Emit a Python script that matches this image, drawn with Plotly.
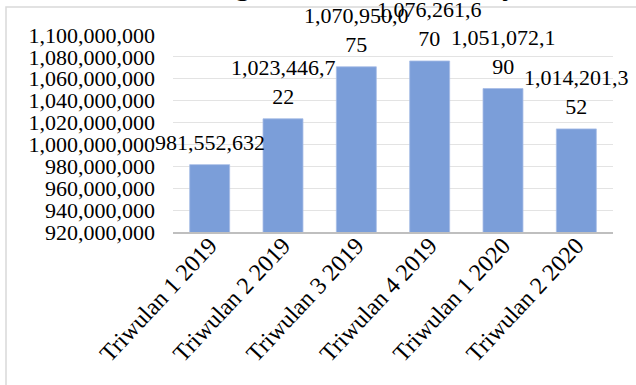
import plotly.graph_objects as go

categories = ["Triwulan 1 2019", "Triwulan 2 2019", "Triwulan 3 2019",
              "Triwulan 4 2019", "Triwulan 1 2020", "Triwulan 2 2020"]
values = [981552632, 1023446722, 1070950075, 1076261670, 1051072190, 1014201352]
value_labels = ["981,552,632", "1,023,446,7<br>22", "1,070,950,0<br>75",
                "1,076,261,6<br>70", "1,051,072,1<br>90", "1,014,201,3<br>52"]
title_text = "Perkembangan Total Aset Bank Syariah"
y_min, y_max, y_step = 920000000, 1100000000, 20000000

FONT = "Liberation Serif, Times New Roman, serif"
W, H = 636, 385
L, R, T, B = 173, 23, 35, 153
pw, ph = W - L - R, H - T - B
FS = 22

fig = go.Figure(go.Bar(
    x=categories, y=values,
    marker=dict(color="#7b9ed9", line=dict(color="#a7bde6", width=0.8)),
    hoverinfo="skip",
))

for c, v, t in zip(categories, values, value_labels):
    fig.add_annotation(x=c, y=v, text=t, showarrow=False, yanchor="bottom",
                       yshift=8, font=dict(family=FONT, size=FS, color="#000000"))

fig.add_annotation(xref="paper", yref="paper", x=(338 - L) / pw,
                   y=1 + (T - 3) / ph, xanchor="center", yanchor="bottom",
                   text=title_text, showarrow=False,
                   font=dict(family=FONT, size=30, color="#000000"))

fig.add_shape(type="rect", xref="paper", yref="paper",
              x0=(6 - L) / pw, x1=(W + 5 - L) / pw,
              y0=1 - (H + 5 - T) / ph, y1=1 + (T - 7) / ph,
              line=dict(color="#d9d9d9", width=1.5), fillcolor="rgba(0,0,0,0)", layer="below")

fig.update_layout(
    width=W, height=H,
    margin=dict(l=L, r=R, t=T, b=B, pad=0, autoexpand=False),
    paper_bgcolor="#ffffff", plot_bgcolor="#ffffff",
    bargap=0.455, showlegend=False,
    font=dict(family=FONT, size=FS, color="#000000"),
)
fig.update_xaxes(tickangle=-47, showgrid=False, showline=True, linecolor="#bfbfbf",
                 linewidth=2, ticks="", automargin=False, range=[-0.5, len(categories) - 0.5],
                 ticklabelstandoff=-12,
                 tickfont=dict(family=FONT, size=24, color="#000000"))
fig.update_yaxes(range=[y_min, y_max], dtick=y_step, tick0=y_min, tickformat=",.0f",
                 showgrid=True, gridcolor="#e3e3e3", gridwidth=1, zeroline=False,
                 showline=False, ticks="", ticklabelstandoff=17, automargin=False,
                 tickfont=dict(family=FONT, size=FS, color="#000000"))

fig.write_html("out.html")
